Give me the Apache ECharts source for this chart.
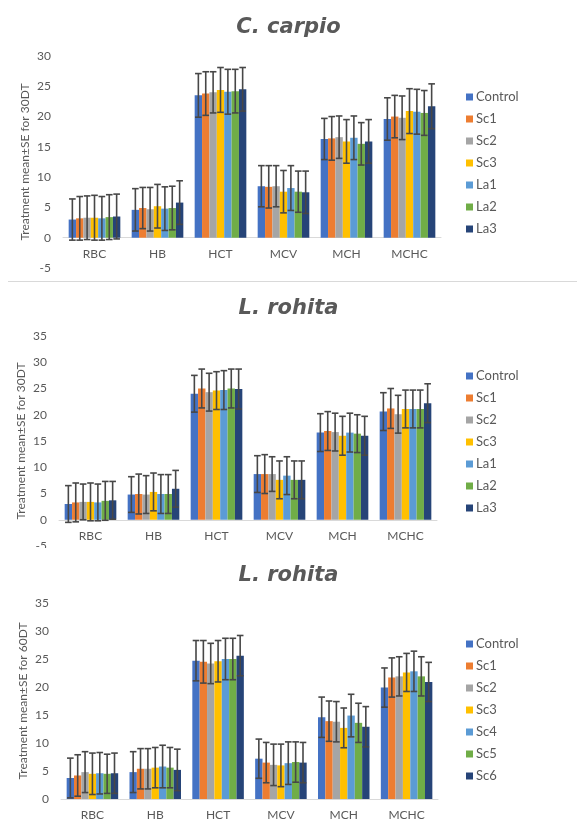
<!DOCTYPE html>
<html>
<head>
<meta charset="utf-8">
<script src="https://cdn.jsdelivr.net/npm/echarts@6/dist/echarts.min.js"></script>
<style>
  html, body { margin: 0; padding: 0; background: #fff; }
  body { width: 577px; height: 823px; position: relative; overflow: hidden; }
  .panel { position: absolute; left: 0; width: 577px; overflow: hidden; }
  #sep { position: absolute; left: 8px; top: 281px; width: 569px; height: 1px; background: #d9d9d9; }
</style>
</head>
<body>
<div id="p1" class="panel" style="top:0px;height:280px;"></div>
<div id="sep"></div>
<div id="p2" class="panel" style="top:282px;height:266px;"></div>
<div id="p3" class="panel" style="top:550px;height:273px;"></div>
<script>
// ---------- DATA ----------
const categories = ['RBC', 'HB', 'HCT', 'MCV', 'MCH', 'MCHC'];
const seriesNames30 = ['Control', 'Sc1', 'Sc2', 'Sc3', 'La1', 'La2', 'La3'];
const seriesNames60 = ['Control', 'Sc1', 'Sc2', 'Sc3', 'Sc4', 'Sc5', 'Sc6'];

// Panel 1: C. carpio, 30DT (rows follow seriesNames30)
const carpio30Mean = [
  [3.0, 4.6, 23.5, 8.5, 16.3, 19.6],
  [3.2, 4.9, 23.8, 8.4, 16.4, 20.0],
  [3.3, 4.7, 24.0, 8.5, 16.6, 19.8],
  [3.3, 5.2, 24.4, 7.6, 15.9, 20.9],
  [3.2, 4.8, 24.1, 8.2, 16.5, 20.8],
  [3.4, 4.9, 24.2, 7.6, 15.5, 20.6],
  [3.5, 5.8, 24.5, 7.5, 15.9, 21.7]
];
const carpio30SE = [
  [3.4, 3.5, 3.6, 3.4, 3.4, 3.5],
  [3.6, 3.4, 3.6, 3.5, 3.6, 3.5],
  [3.6, 3.6, 3.4, 3.4, 3.5, 3.6],
  [3.7, 3.6, 3.7, 3.5, 3.6, 3.7],
  [3.6, 3.6, 3.7, 3.7, 3.6, 3.7],
  [3.7, 3.6, 3.6, 3.4, 3.5, 3.7],
  [3.7, 3.6, 3.6, 3.5, 3.6, 3.7]
];

// Panel 2: L. rohita, 30DT (rows follow seriesNames30)
const rohita30Mean = [
  [3.0, 4.8, 24.0, 8.7, 16.6, 20.6],
  [3.3, 4.9, 25.0, 8.7, 16.9, 21.2],
  [3.4, 4.8, 24.3, 8.7, 16.7, 20.1],
  [3.4, 5.3, 24.6, 7.6, 16.0, 21.1],
  [3.3, 4.9, 24.7, 8.4, 16.6, 21.1],
  [3.6, 4.9, 25.0, 7.6, 16.4, 21.1],
  [3.7, 5.9, 24.9, 7.6, 16.0, 22.2]
];
const rohita30SE = [
  [3.5, 3.4, 3.5, 3.5, 3.6, 3.6],
  [3.7, 3.8, 3.7, 3.7, 3.7, 3.8],
  [3.4, 3.6, 3.6, 3.3, 3.6, 3.6],
  [3.6, 3.6, 3.6, 3.6, 3.7, 3.6],
  [3.5, 3.7, 3.7, 3.6, 3.7, 3.6],
  [3.7, 3.7, 3.7, 3.6, 3.6, 3.6],
  [3.6, 3.5, 3.8, 3.6, 3.7, 3.7]
];

// Panel 3: L. rohita, 60DT (rows follow seriesNames60)
const rohita60Mean = [
  [3.75, 4.8, 24.7, 7.2, 14.6, 19.9],
  [4.2, 5.4, 24.5, 6.5, 13.9, 21.7],
  [4.8, 5.4, 24.2, 6.1, 13.8, 21.9],
  [4.5, 5.6, 24.6, 6.0, 12.7, 22.6],
  [4.6, 5.8, 25.0, 6.4, 14.9, 22.8],
  [4.5, 5.6, 25.0, 6.6, 13.6, 21.9],
  [4.6, 5.2, 25.6, 6.5, 12.9, 20.9]
];
const rohita60SE = [
  [3.55, 3.65, 3.6, 3.5, 3.6, 3.5],
  [3.7, 3.6, 3.8, 3.6, 3.6, 3.5],
  [3.65, 3.6, 3.6, 3.7, 3.6, 3.5],
  [3.7, 3.6, 3.7, 3.8, 3.55, 3.4],
  [3.7, 3.8, 3.7, 3.8, 3.8, 3.6],
  [3.5, 3.6, 3.7, 3.6, 3.5, 3.5],
  [3.6, 3.7, 3.6, 3.6, 3.6, 3.5]
];

const yTicks30a = { min: -5, max: 30, interval: 5 };
const yTicks30b = { min: -5, max: 35, interval: 5 };
const yTicks60 = { min: 0, max: 35, interval: 5 };

// ---------- STYLE ----------
const palette = ['#4472C4', '#ED7D31', '#A5A5A5', '#FFC000', '#5B9BD5', '#70AD47', '#264478'];
const FONT = 'Lato';
const TXT = '#595959';
const CAT_GAP = 0.18;

function buildOption(cfg) {
  const n = cfg.names.length;
  const series = cfg.names.map((name, i) => ({
    type: 'bar',
    name: name,
    data: cfg.mean[i],
    barGap: '0%',
    barCategoryGap: (CAT_GAP * 100) + '%',
    itemStyle: { color: palette[i] },
    z: 2
  }));
  const errData = [];
  for (let s = 0; s < n; s++) {
    for (let c = 0; c < categories.length; c++) {
      errData.push([c, s, cfg.mean[s][c], cfg.se[s][c]]);
    }
  }
  series.push({
    type: 'custom',
    data: errData,
    encode: { x: 0, y: 2 },
    z: 5,
    silent: true,
    renderItem: function (params, api) {
      const c = api.value(0), s = api.value(1), m = api.value(2), e = api.value(3);
      const band = api.size([1, 0])[0];
      const total = band * (1 - CAT_GAP);
      const bw = total / n;
      const cx = api.coord([c, m])[0] - total / 2 + (s + 0.5) * bw;
      const yTop = api.coord([c, m + e])[1];
      const yBot = api.coord([c, m - e])[1];
      const h = bw * 0.45;
      const st = { stroke: '#474747', lineWidth: 1.6 };
      return {
        type: 'group',
        children: [
          { type: 'line', shape: { x1: cx, y1: yTop, x2: cx, y2: yBot }, style: st },
          { type: 'line', shape: { x1: cx - h, y1: yTop, x2: cx + h, y2: yTop }, style: st },
          { type: 'line', shape: { x1: cx - h, y1: yBot, x2: cx + h, y2: yBot }, style: st }
        ]
      };
    }
  });
  // shift the category axis (line + labels) up to the zero level
  const span = cfg.ticks.max - cfg.ticks.min;
  const zeroOffset = -cfg.grid.height * (0 - cfg.ticks.min) / span;
  return {
    animation: false,
    title: {
      text: cfg.title,
      left: 'center',
      top: cfg.titleTop,
      textStyle: { fontFamily: 'DejaVu Sans', fontStyle: 'italic', fontWeight: 'bold', fontSize: 21, color: TXT }
    },
    legend: {
      orient: 'vertical',
      left: 461,
      top: cfg.legendTop,
      icon: 'rect',
      itemWidth: 7,
      itemHeight: 7,
      itemGap: 8,
      data: cfg.names,
      textStyle: { fontFamily: FONT, fontSize: 13, color: TXT, lineHeight: 14, padding: [0, 0, 0, -2] },
      selectedMode: false
    },
    grid: {
      left: cfg.grid.left, right: cfg.grid.right, top: cfg.grid.top, height: cfg.grid.height,
      containLabel: false, outerBoundsMode: 'none'
    },
    xAxis: {
      type: 'category',
      data: categories,
      offset: zeroOffset,
      axisLine: { onZero: false, lineStyle: { color: '#d9d9d9', width: 1 } },
      axisTick: { show: false },
      axisLabel: { margin: 10, fontFamily: FONT, fontSize: 12, color: TXT }
    },
    yAxis: {
      type: 'value',
      min: cfg.ticks.min,
      max: cfg.ticks.max,
      interval: cfg.ticks.interval,
      name: cfg.yName,
      nameLocation: 'middle',
      nameGap: cfg.nameGap,
      nameMoveOverlap: false,
      nameTextStyle: { fontFamily: FONT, fontSize: 12, color: TXT },
      axisLine: { show: false },
      axisTick: { show: false },
      splitLine: { show: false },
      axisLabel: { margin: 12, fontFamily: FONT, fontSize: 12, color: TXT }
    },
    series: series
  };
}

const panels = [
  { id: 'p1', title: 'C. carpio', names: seriesNames30, mean: carpio30Mean, se: carpio30SE,
    ticks: yTicks30a, yName: 'Treatment mean±SE for 30DT', titleTop: 12, legendTop: 85, nameGap: 32,
    grid: { left: 63, right: 136, top: 56, height: 212 } },
  { id: 'p2', title: 'L. rohita', names: seriesNames30, mean: rohita30Mean, se: rohita30SE,
    ticks: yTicks30b, yName: 'Treatment mean±SE for 30DT', titleTop: 11, legendTop: 82, nameGap: 32,
    grid: { left: 59, right: 140, top: 54, height: 210 } },
  { id: 'p3', title: 'L. rohita', names: seriesNames60, mean: rohita60Mean, se: rohita60SE,
    ticks: yTicks60, yName: 'Treatment mean±SE for 60DT', titleTop: 10, legendTop: 82, nameGap: 32,
    grid: { left: 61, right: 139, top: 53, height: 196 } }
];

panels.forEach(cfg => {
  const chart = echarts.init(document.getElementById(cfg.id), null, { renderer: 'canvas' });
  chart.setOption(buildOption(cfg));
});
</script>
</body>
</html>
